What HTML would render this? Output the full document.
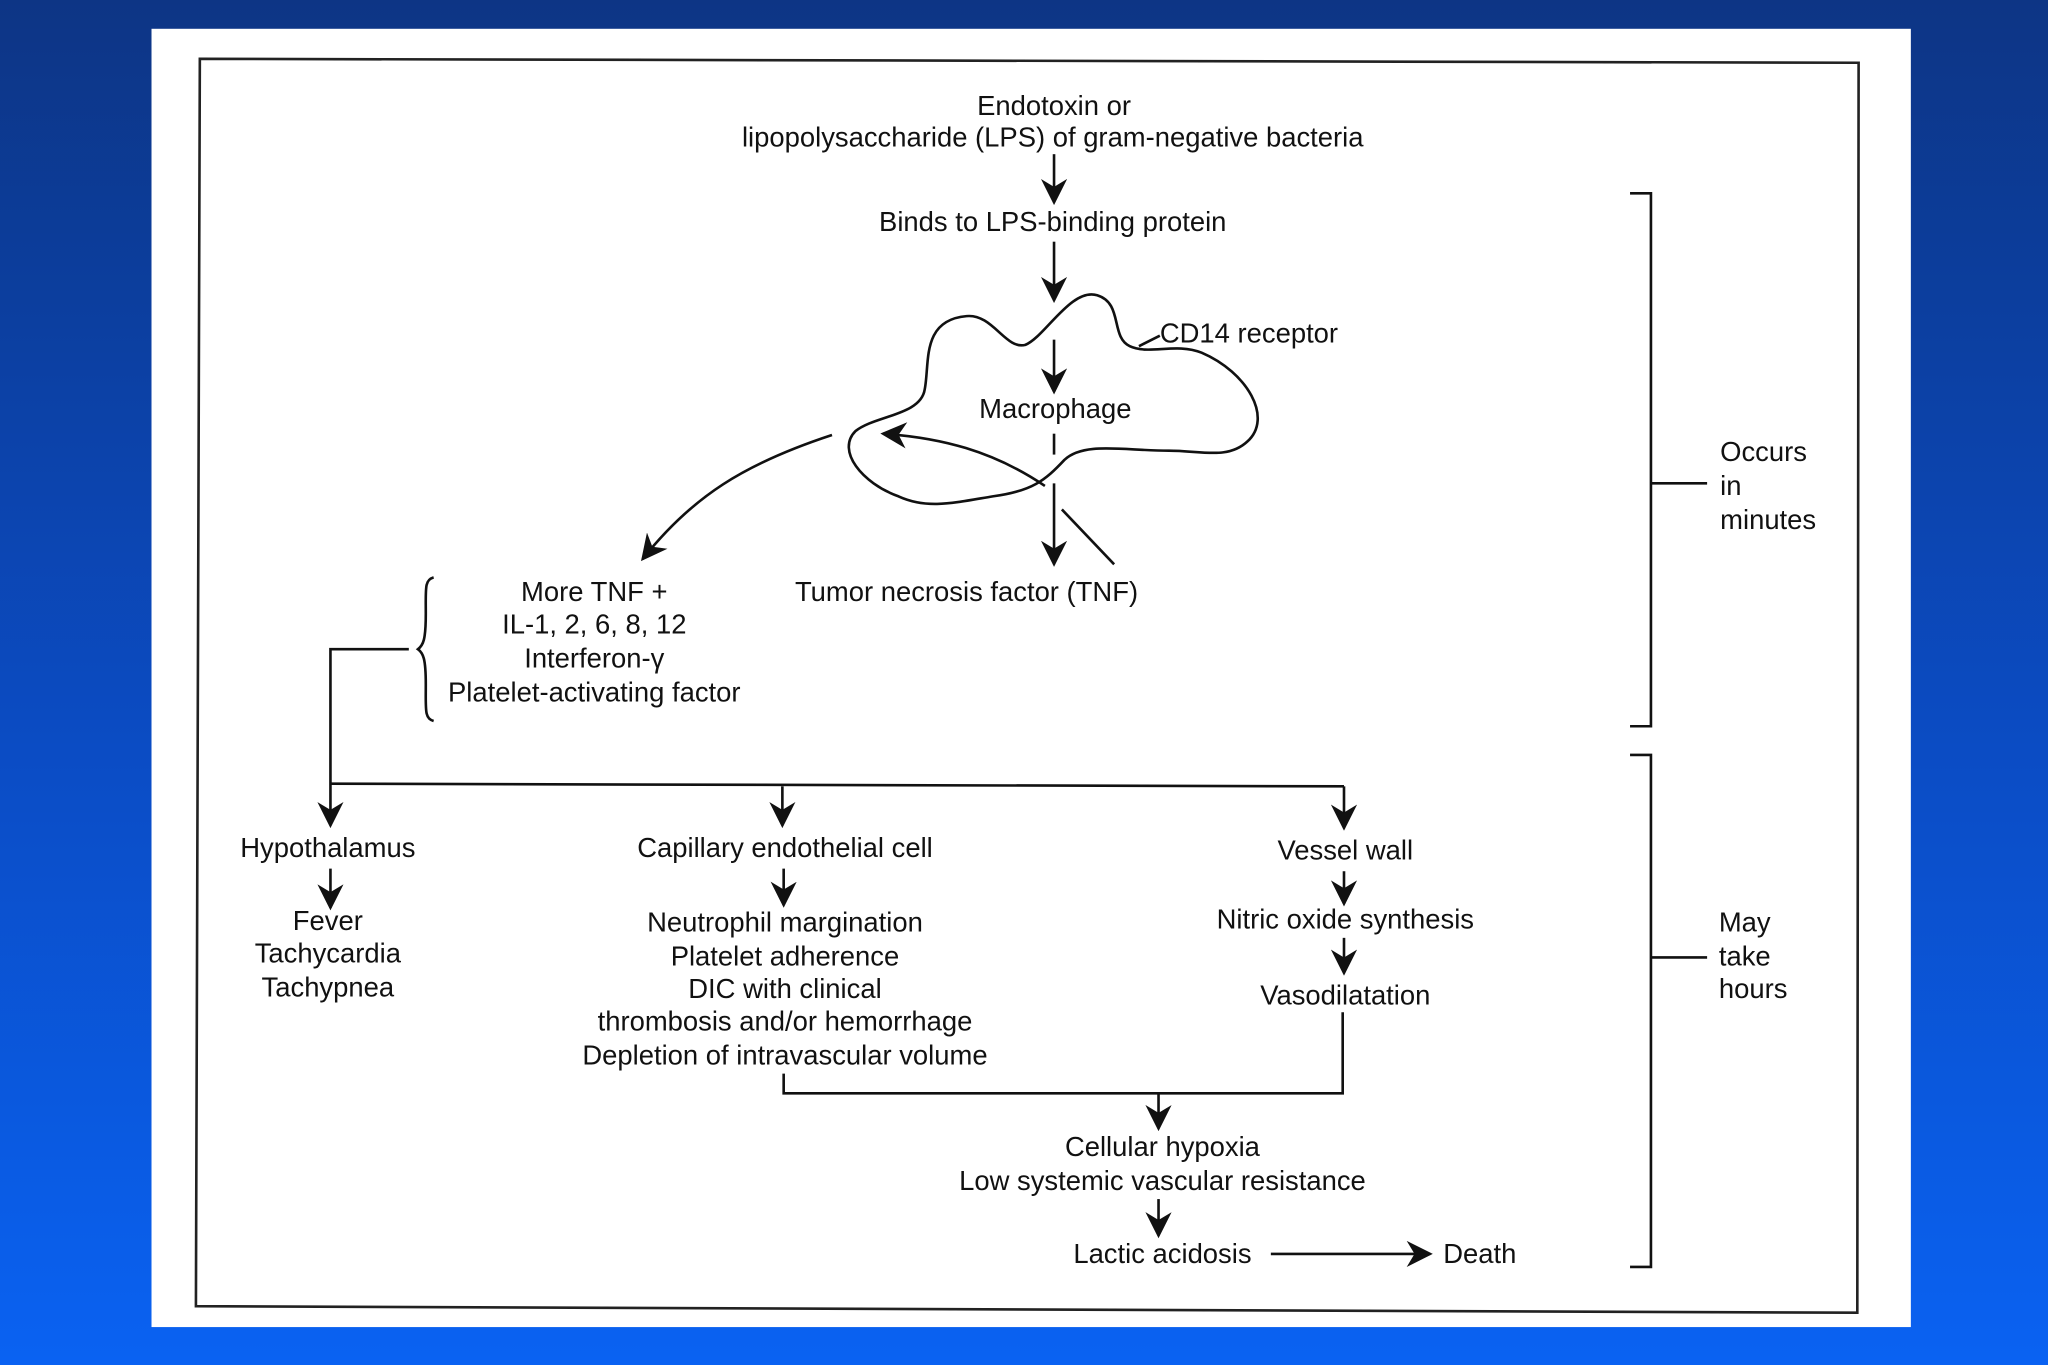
<!DOCTYPE html>
<html><head><meta charset="utf-8"><style>
html,body{margin:0;padding:0;width:2048px;height:1365px;overflow:hidden}
body{background:linear-gradient(to bottom,#0d3585 0%,#0b4cc4 55%,#0a62f2 100%)}
svg{display:block}
text{font-family:"Liberation Sans",Arial,sans-serif;font-size:21px;fill:#111}
</style></head><body>
<svg width="2048" height="1365" viewBox="0 0 1568 1045" xmlns="http://www.w3.org/2000/svg">
<defs>
<marker id="a" viewBox="0 0 10 10" refX="9" refY="5" markerWidth="9" markerHeight="9" markerUnits="userSpaceOnUse" orient="auto">
<path d="M0,0 L10,5 L0,10 L3,5 Z" fill="#111"/></marker>
<marker id="b" viewBox="0 0 10 10" refX="9" refY="5" markerWidth="20" markerHeight="20" markerUnits="userSpaceOnUse" orient="auto">
<path d="M0,0 L10,5 L0,10 L3,5 Z" fill="#111"/></marker>
</defs>
<rect x="116" y="22" width="1347" height="994" fill="#fff"/>
<path d="M153,45 L1423,48 L1422,1005 L150,1000 Z" fill="none" stroke="#222" stroke-width="2"/>
<g stroke="#111" stroke-width="2" fill="none">
<line x1="807" y1="118" x2="807" y2="155" marker-end="url(#b)"/>
<line x1="807" y1="185" x2="807" y2="230" marker-end="url(#b)"/>
<path d="M740,242 C760,240 770,268 785,264 C800,258 820,220 840,226 C860,232 850,258 865,265 C880,272 900,262 920,270 C955,285 975,320 955,338 C940,352 920,345 895,345 C860,345 830,338 815,352 C800,368 790,376 760,380 C730,385 710,390 688,380 C660,370 640,345 655,330 C670,318 705,318 708,298 C712,278 705,245 740,242 Z"/>
<line x1="872" y1="265" x2="888" y2="257"/>
<line x1="807" y1="260" x2="807" y2="300" marker-end="url(#b)"/>
<line x1="807" y1="332" x2="807" y2="348"/>
<line x1="807" y1="370" x2="807" y2="432" marker-end="url(#b)"/>
<line x1="813" y1="390" x2="853" y2="432"/>
<path d="M800,372 C760,345 720,335 676,332" marker-end="url(#b)"/>
<path d="M637,333 C570,355 530,380 492,428" marker-end="url(#b)"/>
<path d="M332,442 C325,444 326,450 326,470 C326,490 324,494 320,497 C324,500 326,504 326,524 C326,544 325,550 332,552"/>
<polyline points="313,497 253,497 253,632" marker-end="url(#b)"/>
<line x1="253" y1="600" x2="1029" y2="602"/>
<line x1="599" y1="602" x2="599" y2="632" marker-end="url(#b)"/>
<line x1="1029" y1="602" x2="1029" y2="634" marker-end="url(#b)"/>
<line x1="253" y1="665" x2="253" y2="695" marker-end="url(#b)"/>
<line x1="600" y1="665" x2="600" y2="693" marker-end="url(#b)"/>
<line x1="1029" y1="667" x2="1029" y2="692" marker-end="url(#b)"/>
<line x1="1029" y1="718" x2="1029" y2="745" marker-end="url(#b)"/>
<polyline points="1028,775 1028,837 600,837 600,822"/>
<line x1="887" y1="837" x2="887" y2="864" marker-end="url(#b)"/>
<line x1="887" y1="918" x2="887" y2="946" marker-end="url(#b)"/>
<line x1="973" y1="960" x2="1095" y2="960" marker-end="url(#b)"/>
<polyline points="1248,148 1264,148 1264,556 1248,556"/>
<line x1="1264" y1="370" x2="1307" y2="370"/>
<polyline points="1248,578 1264,578 1264,970 1248,970"/>
<line x1="1264" y1="733" x2="1307" y2="733"/>
</g>
<g text-anchor="middle">
<text x="807" y="88">Endotoxin or</text>
<text x="806" y="112">lipopolysaccharide (LPS) of gram-negative bacteria</text>
<text x="806" y="177">Binds to LPS-binding protein</text>
<text x="808" y="320">Macrophage</text>
<text x="740" y="460">Tumor necrosis factor (TNF)</text>
<text x="455" y="460">More TNF +</text>
<text x="455" y="485">IL-1, 2, 6, 8, 12</text>
<text x="455" y="511">Interferon-γ</text>
<text x="455" y="537">Platelet-activating factor</text>
<text x="251" y="656">Hypothalamus</text>
<text x="251" y="712">Fever</text>
<text x="251" y="737">Tachycardia</text>
<text x="251" y="763">Tachypnea</text>
<text x="601" y="656">Capillary endothelial cell</text>
<text x="601" y="713">Neutrophil margination</text>
<text x="601" y="739">Platelet adherence</text>
<text x="601" y="764">DIC with clinical</text>
<text x="601" y="789">thrombosis and/or hemorrhage</text>
<text x="601" y="815">Depletion of intravascular volume</text>
<text x="1030" y="658">Vessel wall</text>
<text x="1030" y="711">Nitric oxide synthesis</text>
<text x="1030" y="769">Vasodilatation</text>
<text x="890" y="885">Cellular hypoxia</text>
<text x="890" y="911">Low systemic vascular resistance</text>
<text x="890" y="967">Lactic acidosis</text>
</g>
<text x="888" y="262">CD14 receptor</text>
<text x="1105" y="967">Death</text>
<text x="1317" y="353">Occurs</text>
<text x="1317" y="379">in</text>
<text x="1317" y="405">minutes</text>
<text x="1316" y="713">May</text>
<text x="1316" y="739">take</text>
<text x="1316" y="764">hours</text>
</svg>
</body></html>
